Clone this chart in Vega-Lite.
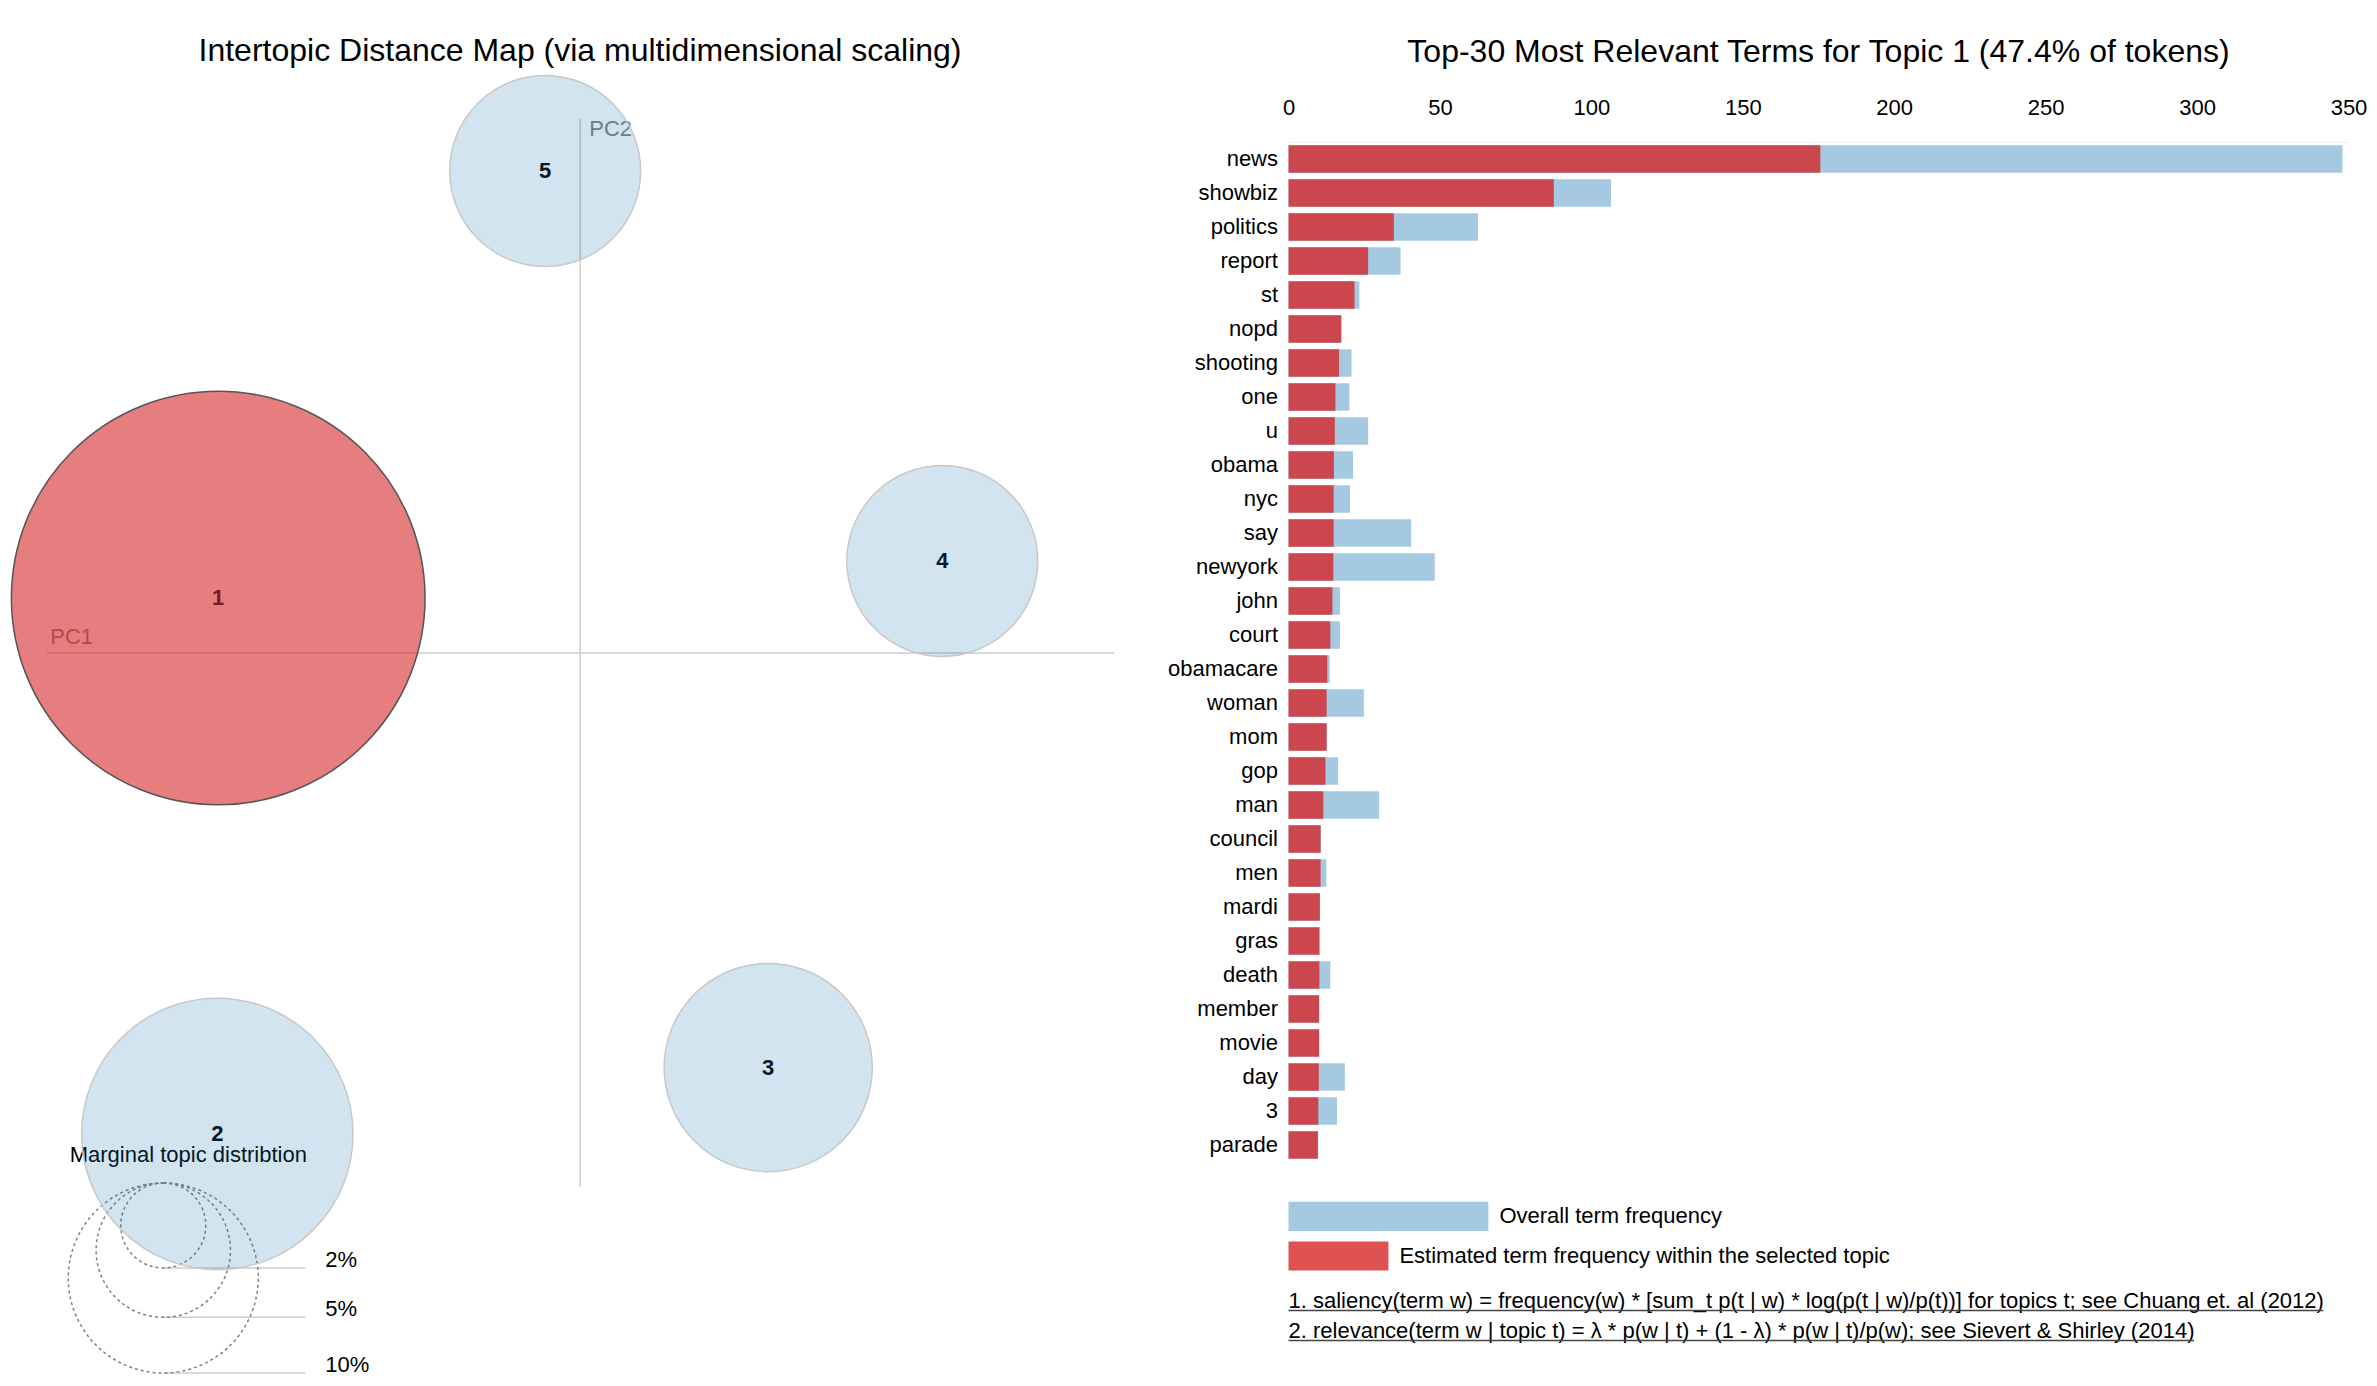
{
  "$schema": "https://vega.github.io/schema/vega-lite/v6.json",
  "padding": {"left": 0, "top": 34, "right": 0, "bottom": 0},
  "background": "white",
  "spacing": 50.5,
  "config": {
    "font": "Liberation Sans",
    "view": {"stroke": null},
    "text": {"font": "Liberation Sans"},
    "title": {"font": "Liberation Sans", "fontWeight": "normal", "fontSize": 32, "color": "black"}
  },
  "datasets": {
    "topics": [
      {"topic": "1", "x": -0.2034, "y": 0.0309, "pct": 47.4, "status": "selected"},
      {"topic": "2", "x": -0.2039, "y": -0.2702, "pct": 20.4, "status": "other"},
      {"topic": "3", "x": 0.1056, "y": -0.2329, "pct": 12.0, "status": "other"},
      {"topic": "4", "x": 0.2034, "y": 0.0517, "pct": 10.1, "status": "other"},
      {"topic": "5", "x": -0.0197, "y": 0.2708, "pct": 10.1, "status": "other"}
    ],
    "legend": [
      {"pct": 2, "label": "2%"},
      {"pct": 5, "label": "5%"},
      {"pct": 10, "label": "10%"}
    ],
    "terms": [
      {"term": "news", "Total": 348, "Freq": 175.6},
      {"term": "showbiz", "Total": 106.5, "Freq": 87.6},
      {"term": "politics", "Total": 62.6, "Freq": 34.8},
      {"term": "report", "Total": 37.0, "Freq": 26.3},
      {"term": "st", "Total": 23.4, "Freq": 21.8},
      {"term": "nopd", "Total": 17.5, "Freq": 17.4},
      {"term": "shooting", "Total": 20.8, "Freq": 16.7},
      {"term": "one", "Total": 20.1, "Freq": 15.5},
      {"term": "u", "Total": 26.3, "Freq": 15.3},
      {"term": "obama", "Total": 21.3, "Freq": 15.0},
      {"term": "nyc", "Total": 20.3, "Freq": 14.9},
      {"term": "say", "Total": 40.5, "Freq": 14.9},
      {"term": "newyork", "Total": 48.3, "Freq": 14.8},
      {"term": "john", "Total": 17.0, "Freq": 14.5},
      {"term": "court", "Total": 17.0, "Freq": 13.8},
      {"term": "obamacare", "Total": 13.6, "Freq": 12.8},
      {"term": "woman", "Total": 24.9, "Freq": 12.6},
      {"term": "mom", "Total": 12.7, "Freq": 12.6},
      {"term": "gop", "Total": 16.4, "Freq": 12.2},
      {"term": "man", "Total": 29.9, "Freq": 11.5},
      {"term": "council", "Total": 10.7, "Freq": 10.6},
      {"term": "men", "Total": 12.5, "Freq": 10.6},
      {"term": "mardi", "Total": 10.4, "Freq": 10.35},
      {"term": "gras", "Total": 10.3, "Freq": 10.2},
      {"term": "death", "Total": 13.8, "Freq": 10.2},
      {"term": "member", "Total": 10.15, "Freq": 10.1},
      {"term": "movie", "Total": 10.15, "Freq": 10.1},
      {"term": "day", "Total": 18.6, "Freq": 10.0},
      {"term": "3", "Total": 16.0, "Freq": 9.85},
      {"term": "parade", "Total": 9.8, "Freq": 9.7}
    ]
  },
  "hconcat": [
    {
      "width": 1116,
      "height": 1240,
      "title": {"text": "Intertopic Distance Map (via multidimensional scaling)", "offset": 5, "dx": 22, "anchor": "middle", "frame": "group"},
      "layer": [
        {
          "data": {"values": [{}]},
          "mark": {"type": "rule", "color": "#cccccc", "strokeWidth": 1.5},
          "encoding": {
            "x": {"datum": -0.3, "type": "quantitative", "scale": {"domain": [-0.326, 0.301], "nice": false, "zero": false}, "axis": null},
            "x2": {"datum": 0.3},
            "y": {"datum": 0, "type": "quantitative", "scale": {"domain": [-0.40955, 0.28708], "nice": false, "zero": false}, "axis": null}
          }
        },
        {
          "data": {"values": [{}]},
          "mark": {"type": "rule", "color": "#cccccc", "strokeWidth": 1.5},
          "encoding": {
            "x": {"datum": 0, "type": "quantitative", "axis": null},
            "y": {"datum": -0.3, "type": "quantitative", "axis": null},
            "y2": {"datum": 0.3}
          }
        },
        {
          "data": {"values": [{}]},
          "mark": {"type": "text", "text": "PC1", "align": "left", "baseline": "alphabetic", "dx": 4, "dy": -9, "fontSize": 22, "color": "#808080"},
          "encoding": {
            "x": {"datum": -0.3, "type": "quantitative", "axis": null},
            "y": {"datum": 0, "type": "quantitative", "axis": null}
          }
        },
        {
          "data": {"values": [{}]},
          "mark": {"type": "text", "text": "PC2", "align": "left", "baseline": "top", "dx": 9, "dy": 0, "fontSize": 22, "color": "#808080"},
          "encoding": {
            "x": {"datum": 0, "type": "quantitative", "axis": null},
            "y": {"datum": 0.3, "type": "quantitative", "axis": null}
          }
        },
        {
          "data": {"values": [{}]},
          "mark": {"type": "text", "text": "Marginal topic distribtion", "align": "center", "baseline": "middle", "fontSize": 22, "color": "black"},
          "encoding": {
            "x": {"datum": -0.2202, "type": "quantitative", "axis": null},
            "y": {"datum": -0.282, "type": "quantitative", "axis": null}
          }
        },
        {
          "data": {"name": "legend"},
          "mark": {"type": "rule", "color": "#cccccc", "strokeWidth": 1.5},
          "encoding": {
            "x": {"datum": -0.23427, "type": "quantitative", "axis": null},
            "x2": {"datum": -0.15449},
            "y": {"datum": -0.29775, "type": "quantitative", "axis": null},
            "yOffset": {"field": "pct", "type": "quantitative", "scale": {"type": "sqrt", "domain": [0, 10], "range": [0, 190]}}
          }
        },
        {
          "data": {"name": "legend"},
          "mark": {"type": "text", "align": "left", "baseline": "alphabetic", "dy": -1, "fontSize": 22, "color": "black"},
          "encoding": {
            "x": {"datum": -0.14326, "type": "quantitative", "axis": null},
            "y": {"datum": -0.29775, "type": "quantitative", "axis": null},
            "yOffset": {"field": "pct", "type": "quantitative", "scale": {"type": "sqrt", "domain": [0, 10], "range": [0, 190]}},
            "text": {"field": "label", "type": "nominal"}
          }
        },
        {
          "data": {"name": "legend"},
          "mark": {"type": "point", "shape": "M0,0A1,1,0,1,1,0,2A1,1,0,1,1,0,0Z", "filled": false, "color": "#808080", "strokeWidth": 1.5, "strokeDash": [3, 3], "opacity": 1},
          "encoding": {
            "x": {"datum": -0.23427, "type": "quantitative", "axis": null},
            "y": {"datum": -0.29775, "type": "quantitative", "axis": null},
            "size": {"field": "pct", "type": "quantitative", "scale": {"domain": [0, 10], "range": [0, 36100]}, "legend": null}
          }
        },
        {
          "data": {"name": "topics"},
          "mark": {"type": "text", "fontWeight": "bold", "fontSize": 22, "color": "black", "baseline": "middle", "align": "center"},
          "encoding": {
            "x": {"field": "x", "type": "quantitative", "axis": null},
            "y": {"field": "y", "type": "quantitative", "axis": null},
            "text": {"field": "topic", "type": "nominal"}
          }
        },
        {
          "data": {"name": "topics"},
          "mark": {"type": "circle", "opacity": 1, "strokeWidth": 1.5},
          "encoding": {
            "x": {"field": "x", "type": "quantitative", "axis": null},
            "y": {"field": "y", "type": "quantitative", "axis": null},
            "size": {"field": "pct", "type": "quantitative", "scale": {"domain": [0, 10], "range": [0, 36100]}, "legend": null},
            "fill": {"field": "status", "type": "nominal", "scale": {"domain": ["selected", "other"], "range": ["#d62728", "#1f77b4"]}, "legend": null},
            "fillOpacity": {"field": "status", "type": "nominal", "scale": {"domain": ["selected", "other"], "range": [0.6, 0.2]}, "legend": null},
            "stroke": {"field": "status", "type": "nominal", "scale": {"domain": ["selected", "other"], "range": ["#555555", "#c8c8c8"]}, "legend": null}
          }
        }
      ]
    },
    {
      "width": 1060,
      "height": 1020,
      "title": {"text": "Top-30 Most Relevant Terms for Topic 1 (47.4% of tokens)", "offset": 27, "anchor": "middle", "frame": "group"},
      "resolve": {"scale": {"y": "independent"}},
      "layer": [
        {
          "data": {"name": "terms"},
          "layer": [
            {
              "mark": {"type": "bar", "color": "#1f77b4", "opacity": 0.4, "height": 27.4},
              "encoding": {
                "y": {"field": "term", "type": "nominal", "sort": null, "scale": {"paddingInner": 0.194, "paddingOuter": 0.097},
                  "axis": {"title": null, "ticks": false, "domain": false, "labelFontSize": 22, "labelColor": "black", "labelPadding": 11, "labelFont": "Liberation Sans", "minExtent": 120, "maxExtent": 120}},
                "x": {"field": "Total", "type": "quantitative", "scale": {"domain": [0, 350], "nice": false, "zero": true},
                  "axis": {"orient": "top", "title": null, "values": [0, 50, 100, 150, 200, 250, 300, 350], "ticks": false, "grid": false, "domainColor": "#eeeeee", "labelFontSize": 22, "labelColor": "black", "labelPadding": 23, "labelFlush": false, "labelFont": "Liberation Sans"}}
              }
            },
            {
              "mark": {"type": "bar", "color": "#d62728", "opacity": 0.8, "height": 27.4},
              "encoding": {
                "y": {"field": "term", "type": "nominal", "sort": null},
                "x": {"field": "Freq", "type": "quantitative"}
              }
            }
          ]
        },
        {
          "data": {"values": [{}]},
          "layer": [
            {
              "mark": {"type": "rect", "color": "#1f77b4", "opacity": 0.4},
              "encoding": {
                "x": {"datum": 0, "type": "quantitative"},
                "x2": {"datum": 66},
                "y": {"datum": 30.67, "type": "quantitative", "scale": {"domain": [-0.5, 29.5], "reverse": true, "nice": false, "zero": false}, "axis": null},
                "y2": {"datum": 31.53}
              }
            },
            {
              "mark": {"type": "rect", "color": "#d62728", "opacity": 0.8},
              "encoding": {
                "x": {"datum": 0, "type": "quantitative"},
                "x2": {"datum": 33},
                "y": {"datum": 31.84, "type": "quantitative", "axis": null},
                "y2": {"datum": 32.69}
              }
            },
            {
              "mark": {"type": "text", "text": "Overall term frequency", "align": "left", "baseline": "middle", "dx": 11, "fontSize": 22, "color": "black"},
              "encoding": {
                "x": {"datum": 66, "type": "quantitative"},
                "y": {"datum": 31.1, "type": "quantitative", "axis": null}
              }
            },
            {
              "mark": {"type": "text", "text": "Estimated term frequency within the selected topic", "align": "left", "baseline": "middle", "dx": 11, "fontSize": 22, "color": "black"},
              "encoding": {
                "x": {"datum": 33, "type": "quantitative"},
                "y": {"datum": 32.26, "type": "quantitative", "axis": null}
              }
            },
            {
              "mark": {"type": "text", "text": "1. saliency(term w) = frequency(w) * [sum_t p(t | w) * log(p(t | w)/p(t))] for topics t; see Chuang et. al (2012)", "align": "left", "baseline": "alphabetic", "fontSize": 22, "color": "black"},
              "encoding": {
                "x": {"datum": 0, "type": "quantitative"},
                "y": {"datum": 33.79, "type": "quantitative", "axis": null}
              }
            },
            {
              "mark": {"type": "text", "text": "2. relevance(term w | topic t) = λ * p(w | t) + (1 - λ) * p(w | t)/p(w); see Sievert & Shirley (2014)", "align": "left", "baseline": "alphabetic", "fontSize": 22, "color": "black"},
              "encoding": {
                "x": {"datum": 0, "type": "quantitative"},
                "y": {"datum": 34.676, "type": "quantitative", "axis": null}
              }
            },
            {
              "mark": {"type": "rule", "color": "#444444", "strokeWidth": 1.5},
              "encoding": {
                "x": {"datum": 0, "type": "quantitative"},
                "x2": {"datum": 341.7},
                "y": {"datum": 33.865, "type": "quantitative", "axis": null}
              }
            },
            {
              "mark": {"type": "rule", "color": "#444444", "strokeWidth": 1.5},
              "encoding": {
                "x": {"datum": 0, "type": "quantitative"},
                "x2": {"datum": 299},
                "y": {"datum": 34.75, "type": "quantitative", "axis": null}
              }
            }
          ]
        }
      ]
    }
  ]
}
